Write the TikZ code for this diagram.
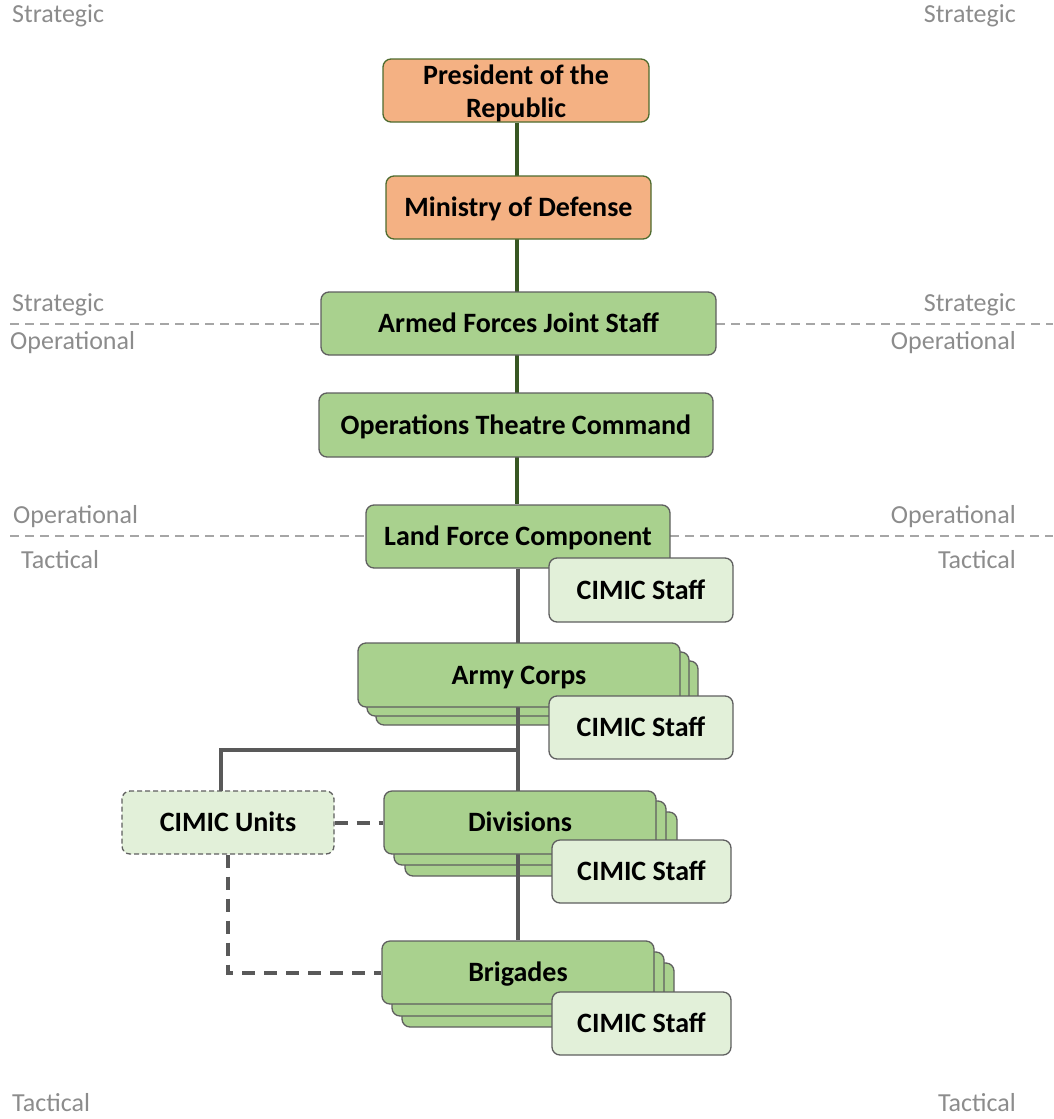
\documentclass[tikz,border=0pt]{standalone}
\usepackage{fontspec}
\setmainfont{Carlito}
\usetikzlibrary{backgrounds}
\definecolor{orfill}{HTML}{F4B183}
\definecolor{orline}{HTML}{4E6B2E}
\definecolor{grfill}{HTML}{A9D18E}
\definecolor{ltfill}{HTML}{E2F0D9}
\definecolor{boxline}{HTML}{5F5F5F}
\definecolor{cmdline}{HTML}{385723}
\definecolor{linkgray}{HTML}{595959}
\definecolor{lvlgray}{HTML}{8C8C8C}
\definecolor{sepgray}{HTML}{A6A6A6}
\pgfdeclarelayer{stack}
\pgfdeclarelayer{links}
\pgfsetlayers{stack,links,main}
\begin{document}
\begin{tikzpicture}[x=1pt,y=-1pt,
  box/.style={rounded corners=8pt,line width=1.3pt,draw=boxline,align=center,
    font=\fontsize{28}{33}\selectfont\bfseries,inner sep=0pt,
    text height=22pt,text depth=4pt},
  orbox/.style={box,fill=orfill,draw=orline},
  grbox/.style={box,fill=grfill},
  ltbox/.style={box,fill=ltfill},
  level/.style={font=\fontsize{26}{30}\selectfont,text=lvlgray,inner sep=0pt},
  sep/.style={draw=sepgray,line width=1.2pt,dash pattern=on 9pt off 6pt},
  cmd/.style={draw=cmdline,line width=4pt},
  link/.style={draw=linkgray,line width=4pt},
  dlink/.style={draw=linkgray,line width=4pt,dash pattern=on 13pt off 9pt},
]
\useasboundingbox (0,0) rectangle (1053,1119);

% level separators
\draw[sep] (10,324) -- (321,324);
\draw[sep] (716,324) -- (1053,324);
\draw[sep] (10,536) -- (366,536);
\draw[sep] (670,536) -- (1053,536);

% level labels
\node[level,anchor=west] (s1l) at (12,16) {Strategic};
\node[level,anchor=east] (s1r) at (1016,16) {Strategic};
\node[level,anchor=west] (s2l) at (12,305) {Strategic};
\node[level,anchor=east] (s2r) at (1016,305) {Strategic};
\node[level,anchor=west] (o1l) at (10,343) {Operational};
\node[level,anchor=east] (o1r) at (1016,343) {Operational};
\node[level,anchor=west] (o2l) at (13,517) {Operational};
\node[level,anchor=east] (o2r) at (1016,517) {Operational};
\node[level,anchor=west] (t1l) at (21,560) {Tactical};
\node[level,anchor=east] (t1r) at (1016,560) {Tactical};
\node[level,anchor=west] (t2l) at (12,1103) {Tactical};
\node[level,anchor=east] (t2r) at (1016,1103) {Tactical};

% command chain
\node[orbox,minimum width=266pt,minimum height=63pt,text height=56pt,text depth=3pt] (pres) at (516,90.5) {President of the\\Republic};
\node[orbox,minimum width=265pt,minimum height=63pt] (mod) at (518.5,207.5) {Ministry of Defense};
\node[grbox,minimum width=395pt,minimum height=63pt] (afjs) at (518.5,323.5) {Armed Forces Joint Staff};
\node[grbox,minimum width=394pt,minimum height=64pt] (otc) at (516,425) {Operations Theatre Command};
\node[grbox,minimum width=304pt,minimum height=63pt] (lfc) at (518,536.5) {Land Force Component};
\node[ltbox,minimum width=184pt,minimum height=64pt] (cs1) at (641,590) {CIMIC Staff};

% stacked echelons (back copies)
\begin{pgfonlayer}{stack}
\node[grbox,minimum width=322pt,minimum height=64pt] (ac3) at (537,693) {};
\node[grbox,minimum width=322pt,minimum height=64pt] (ac2) at (528,684) {};
\node[grbox,minimum width=272pt,minimum height=64pt] (dv3) at (541,844) {};
\node[grbox,minimum width=272pt,minimum height=64pt] (dv2) at (530,833) {};
\node[grbox,minimum width=272pt,minimum height=64pt] (bg3) at (538,995) {};
\node[grbox,minimum width=272pt,minimum height=64pt] (bg2) at (528,984) {};
\end{pgfonlayer}

\node[grbox,minimum width=322pt,minimum height=64pt] (ac) at (519,675) {Army Corps};
\node[ltbox,minimum width=184pt,minimum height=63pt] (cs2) at (641,727.5) {CIMIC Staff};
\node[grbox,minimum width=272pt,minimum height=63pt] (dv) at (520,822.5) {Divisions};
\node[ltbox,minimum width=179pt,minimum height=63pt] (cs3) at (641.5,871.5) {CIMIC Staff};
\node[grbox,minimum width=272pt,minimum height=63pt] (bg) at (518,972.5) {Brigades};
\node[ltbox,minimum width=179pt,minimum height=63pt] (cs4) at (641.5,1023.5) {CIMIC Staff};
\node[ltbox,dash pattern=on 5pt off 3pt,minimum width=212pt,minimum height=63pt] (cu) at (228,822.5) {CIMIC Units};

\coordinate (jn) at (518,750);

% connectors
\begin{pgfonlayer}{links}
\draw[cmd] ([xshift=1pt]pres.south) -- ([xshift=1pt]pres.south |- lfc.north);
\draw[link] (lfc.south) -- (bg.north -| lfc.south);
\draw[link,line cap=rect] ([xshift=-7pt]cu.north) |- (jn);
\draw[dlink] (cu.east) -- (dv.west);
\draw[dlink] (cu.south) |- (bg.west);
\end{pgfonlayer}
\end{tikzpicture}
\end{document}
